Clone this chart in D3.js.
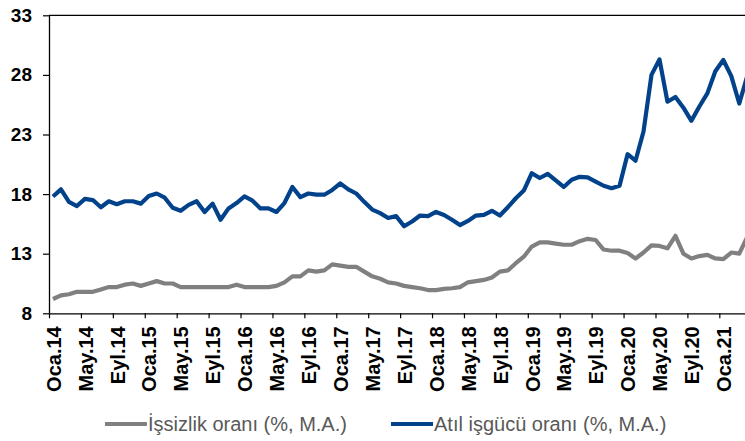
<!DOCTYPE html>
<html>
<head>
<meta charset="utf-8">
<script src="https://cdn.jsdelivr.net/npm/d3@7"></script>
<style>
  body { margin: 0; background: #fff; }
  svg { display: block; font-family: "Liberation Sans", Arial, sans-serif; }
</style>
</head>
<body>
<div id="chart"></div>
<script>
// monthly series, Oca.14 .. Nis.21
const unemployment = [
  9.2, 9.5, 9.6, 9.8, 9.8, 9.8, 10.0, 10.2, 10.2, 10.4, 10.5, 10.3,
  10.5, 10.7, 10.5, 10.5, 10.2, 10.2, 10.2, 10.2, 10.2, 10.2, 10.2, 10.4,
  10.2, 10.2, 10.2, 10.2, 10.3, 10.6, 11.1, 11.1, 11.6, 11.5, 11.6, 12.1,
  12.0, 11.9, 11.9, 11.5, 11.1, 10.9, 10.6, 10.5, 10.3, 10.2, 10.1, 9.95,
  9.95, 10.05, 10.1, 10.2, 10.6, 10.7, 10.8, 11.0, 11.5, 11.6, 12.2, 12.75,
  13.6, 13.95, 13.95, 13.85, 13.75, 13.75, 14.05, 14.25, 14.15, 13.35, 13.25, 13.25,
  13.05, 12.6, 13.1, 13.7, 13.65, 13.45, 14.5, 13.0, 12.6, 12.8, 12.9, 12.6,
  12.55, 13.1, 13.0, 14.4
];
const underutilization = [
  17.8, 18.4, 17.35, 17.0, 17.6, 17.5, 16.9, 17.4, 17.15, 17.4, 17.4, 17.2,
  17.85, 18.05, 17.7, 16.85, 16.6, 17.1, 17.4, 16.5, 17.2, 15.85, 16.8, 17.25,
  17.8, 17.45, 16.8, 16.8, 16.5, 17.25, 18.6, 17.75, 18.05, 17.95, 17.95, 18.35,
  18.9, 18.4, 18.05, 17.35, 16.7, 16.4, 16.0, 16.15, 15.3, 15.7, 16.2, 16.15,
  16.5, 16.25, 15.85, 15.4, 15.75, 16.2, 16.25, 16.6, 16.2, 16.9, 17.65, 18.3,
  19.75, 19.35, 19.7, 19.15, 18.6, 19.2, 19.45, 19.4, 19.05, 18.7, 18.5, 18.7,
  21.35, 20.8, 23.25, 28.0, 29.3, 25.75, 26.15, 25.25, 24.15, 25.35, 26.45, 28.3,
  29.25, 27.9, 25.6, 27.9
];
const tickLabels = [
  "Oca.14", "May.14", "Eyl.14", "Oca.15", "May.15", "Eyl.15", "Oca.16", "May.16",
  "Eyl.16", "Oca.17", "May.17", "Eyl.17", "Oca.18", "May.18", "Eyl.18", "Oca.19",
  "May.19", "Eyl.19", "Oca.20", "May.20", "Eyl.20", "Oca.21"
];
const yTicks = [8, 13, 18, 23, 28, 33];
const seriesNames = ["İşsizlik oranı (%, M.A.)", "Atıl işgücü oranı (%, M.A.)"];

const W = 745, H = 441;
const plot = { left: 49, top: 15.3, bottom: 313.3, step: 7.98 };
const n = unemployment.length;

const svg = d3.select("#chart").append("svg").attr("width", W).attr("height", H);

// month index scale, each month is one slot, points in the middle of the slot
const x = d3.scaleLinear().domain([0, n]).range([plot.left, plot.left + n * plot.step]);
const y = d3.scaleLinear().domain([8, 33]).range([plot.bottom, plot.top]);

// top border
svg.append("line")
  .attr("x1", plot.left).attr("x2", W)
  .attr("y1", y(33)).attr("y2", y(33))
  .attr("stroke", "#000").attr("stroke-width", 1.3);

// Y axis
const yAxis = svg.append("g")
  .attr("transform", `translate(${plot.left},0)`)
  .call(d3.axisLeft(y).tickValues(yTicks).tickSize(6).tickSizeOuter(0).tickPadding(11));
yAxis.select(".domain").attr("stroke-width", 1.3);
yAxis.selectAll("line").attr("stroke-width", 1.2);
yAxis.selectAll("text")
  .attr("font-size", 19).attr("font-weight", "bold").attr("fill", "#000")
  .attr("font-family", "Liberation Sans, Arial, sans-serif");

// X axis
const xAxis = svg.append("g")
  .attr("transform", `translate(0,${plot.bottom})`)
  .call(d3.axisBottom(x)
    .tickValues(tickLabels.map((d, i) => i * 4))
    .tickFormat((d, i) => tickLabels[i])
    .tickSize(5).tickSizeOuter(0));
xAxis.select(".domain").attr("stroke-width", 1.3);
xAxis.selectAll("line").attr("stroke-width", 1.2);
xAxis.selectAll("text")
  .attr("transform", "rotate(-90)")
  .attr("text-anchor", "end")
  .attr("x", -13)
  .attr("y", plot.step / 2)
  .attr("dy", "0.36em")
  .attr("font-size", 20).attr("font-weight", "bold").attr("fill", "#000")
  .attr("font-family", "Liberation Sans, Arial, sans-serif");

// lines
const color = d3.scaleOrdinal().domain(seriesNames).range(["#808080", "#02428b"]);
const line = d3.line()
  .x((d, i) => x(i + 0.5))
  .y((d) => y(d));

svg.selectAll(".series")
  .data([unemployment, underutilization])
  .join("path")
  .attr("class", "series")
  .attr("fill", "none")
  .attr("stroke", (d, i) => color(seriesNames[i]))
  .attr("stroke-width", 4.2)
  .attr("stroke-linejoin", "round")
  .attr("d", line);

// legend
const legendX = [105, 391];
const legend = svg.selectAll(".legend")
  .data(seriesNames)
  .join("g")
  .attr("class", "legend")
  .attr("transform", (d, i) => `translate(${legendX[i]},424)`);
legend.append("line")
  .attr("x1", 0).attr("x2", 42)
  .attr("stroke", (d) => color(d))
  .attr("stroke-width", 4.2);
legend.append("text")
  .attr("x", 43)
  .attr("dy", "0.35em")
  .attr("font-size", 20)
  .attr("fill", "#595959")
  .text((d) => d);
</script>
</body>
</html>
